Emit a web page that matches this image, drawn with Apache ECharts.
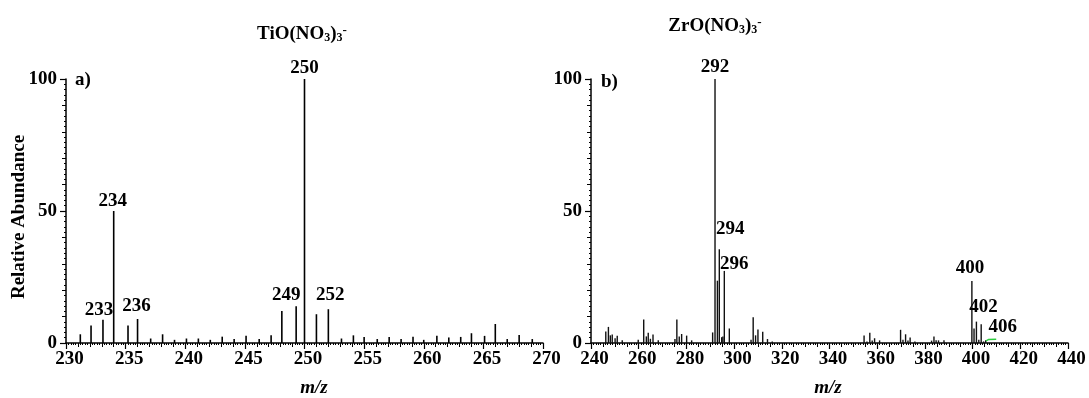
<!DOCTYPE html>
<html>
<head>
<meta charset="utf-8">
<script src="https://cdn.jsdelivr.net/npm/echarts@6/dist/echarts.min.js"></script>
<style>
html,body{margin:0;padding:0;background:#fff;}
#chart{width:1089px;height:398px;}
</style>
</head>
<body>
<div id="chart"></div>
<script>
// ---- Data ----
// Panel a) TiO(NO3)3-  : [m/z, relative abundance]
var tiMz  = [231.2,232.1,233.1,234.0,235.2,236.0,237.1,238.1,239.1,240.1,241.1,242.1,243.1,244.1,245.1,246.2,247.2,248.1,249.3,250.0,251.0,252.0,253.1,254.1,255.0,256.1,257.1,258.1,259.1,260.0,261.1,262.1,263.1,264.0,265.1,266.0,267.0,268.0,269.1];
var tiAbu = [3.3,6.6,8.8,50,6.6,9.1,1.7,3.3,1.2,1.7,1.7,1.2,2.4,1.5,2.7,1.5,2.9,12.1,13.9,100,10.9,12.8,1.7,2.9,2.3,1.5,2.3,1.5,2.4,1.2,2.7,2.1,2.3,3.7,2.7,7.2,1.5,3.0,1.5];
var tiLabelMz   = [233.1,234.0,236.0,249.3,250.0,252.0];
var tiLabelText = ['233','234','236','249','250','252'];

// Panel b) ZrO(NO3)3-
var zrMz  = [246.2,247.3,248.1,248.9,250.1,251.0,253.1,259.8,262.1,263.2,264.0,264.9,266.0,268.2,275.2,276.0,277.0,278.0,280.1,282.2,291.0,292.0,293.0,293.8,294.8,295.3,295.9,298.0,307.1,308.0,309.0,310.0,312.0,314.0,316.0,354.5,355.7,356.9,357.9,358.9,361.0,369.8,370.8,371.9,372.9,373.8,375.8,382.8,383.8,384.7,385.7,388.0,399.7,400.6,401.6,402.6,403.6,404.6,405.5];
var zrAbu = [4.4,6.1,2.9,3.2,1.8,2.7,1.0,1.2,8.9,2.5,3.9,1.6,3.2,1.0,1.5,8.9,2.5,3.4,2.8,1.0,4.0,100,23.6,35.5,2.2,2.5,27.3,5.5,1.2,9.8,2.9,5.1,4.3,1.5,0.6,2.8,0.6,3.9,0.9,1.8,1.0,5.0,1.2,3.3,0.9,2.1,0.6,0.9,2.5,1.0,1.0,1.0,23.5,5.5,8.1,1.2,7.1,0.6,1.0];
var zrLabelMz   = [292.0,293.8,295.9,399.7,401.6,405.5];
var zrLabelText = ['292','294','296','400','402','406'];
var zrGreenMz  = [405.6,406.6,409.9];
var zrGreenAbu = [0.8,1.3,1.4];

// Axis ranges / ticks
var tiRange = [230, 270], tiStep = 5;
var zrRange = [240, 440], zrStep = 20;
var yTicks = [0, 50, 100];

// ---- Styling (kept separate from data) ----
var labelOffsets = {
  '233':[-4,-1], '234':[-1,-1], '236':[-1,-4], '249':[-10,-2], '250':[0,-2], '252':[2,-5],
  '292':[0,-3], '294':[11,-11], '296':[10,2], '400':[-2,-4], '402':[7,-6], '406':[17,-4]
};
var FONT = 'Liberation Serif';
var FS = 19;

function buildBars(mz, abu, lblMz, lblText) {
  return mz.map(function (m, i) {
    var item = {value: [m, abu[i]]};
    var k = lblMz.indexOf(m);
    if (k >= 0) {
      var t = lblText[k];
      item.label = {show: true, position: 'top', distance: 0, formatter: t,
        offset: labelOffsets[t], fontSize: FS, lineHeight: 18,
        fontFamily: FONT, fontWeight: 'bold', color: '#000'};
    }
    return item;
  });
}

var grids = [
  {left: 66, top: 79, width: 477, height: 264},
  {left: 591, top: 79, width: 477, height: 264}
];

function mainX(gi, range, step) {
  return {gridIndex: gi, type: 'value', position: 'bottom', min: range[0], max: range[1], interval: step,
    axisLine: {show: true, onZero: false, lineStyle: {color: '#000', width: 1.5}},
    axisTick: {show: true, length: 6, lineStyle: {color: '#000', width: 1.2}},
    axisLabel: {show: true, margin: 7, fontSize: FS, padding: [0,0,0,7], fontFamily: FONT, fontWeight: 'bold', color: '#000'},
    splitLine: {show: false}};
}
function midX(gi, range, step, minorN) {
  return {gridIndex: gi, type: 'value', position: 'bottom', min: range[0], max: range[1], interval: step,
    axisLine: {show: false, onZero: false},
    axisTick: {show: true, length: 4, lineStyle: {color: '#000', width: 1}},
    minorTick: {show: true, splitNumber: minorN, length: 2, lineStyle: {color: '#000', width: 1}},
    axisLabel: {show: false}, splitLine: {show: false}};
}
function mainY(gi) {
  return {gridIndex: gi, type: 'value', position: 'left', min: yTicks[0], max: yTicks[yTicks.length-1], interval: yTicks[1]-yTicks[0],
    axisLine: {show: true, onZero: false, lineStyle: {color: '#000', width: 1.5}},
    axisTick: {show: true, length: 6, lineStyle: {color: '#000', width: 1.2}},
    axisLabel: {show: true, margin: 9, fontSize: FS, fontFamily: FONT, fontWeight: 'bold', color: '#000'},
    splitLine: {show: false}};
}
function midY(gi) {
  return {gridIndex: gi, type: 'value', position: 'left', min: 0, max: 100, interval: 10,
    axisLine: {show: false, onZero: false},
    axisTick: {show: true, length: 4, lineStyle: {color: '#000', width: 1}},
    minorTick: {show: true, splitNumber: 5, length: 2, lineStyle: {color: '#000', width: 1}},
    axisLabel: {show: false}, splitLine: {show: false}};
}

var richTitle = {
  a: {fontSize: 19, lineHeight: 20, fontFamily: FONT, fontWeight: 'bold', color: '#000', verticalAlign: 'middle'},
  s: {fontSize: 12, lineHeight: 12, fontFamily: FONT, fontWeight: 'bold', color: '#000', verticalAlign: 'bottom'},
  p: {fontSize: 13, lineHeight: 13, fontFamily: FONT, fontWeight: 'bold', color: '#000', verticalAlign: 'top'}
};

var option = {
  backgroundColor: '#fff',
  animation: false,
  title: [
    {text: '{a|TiO(NO}{s|3}{a|)}{s|3}{p|-}', left: 302, top: 24, textAlign: 'center', padding: 0,
     textStyle: {rich: richTitle}},
    {text: '{a|ZrO(NO}{s|3}{a|)}{s|3}{p|-}', left: 715, top: 16, textAlign: 'center', padding: 0,
     textStyle: {rich: richTitle}}
  ],
  grid: grids,
  xAxis: [
    mainX(0, tiRange, tiStep), midX(0, tiRange, 1, 5),
    mainX(1, zrRange, zrStep), midX(1, zrRange, 5, 5)
  ],
  yAxis: [mainY(0), midY(0), mainY(1), midY(1)],
  graphic: [
    {type: 'text', x: 19, y: 217, rotation: Math.PI/2,
     style: {text: 'Relative Abundance', font: 'bold 19px "Liberation Serif"', fill: '#000', align: 'center', verticalAlign: 'middle'}},
    {type: 'text', x: 314, y: 388,
     style: {text: 'm/z', font: 'italic bold 19px "Liberation Serif"', fill: '#000', align: 'center', verticalAlign: 'middle'}},
    {type: 'text', x: 828, y: 388,
     style: {text: 'm/z', font: 'italic bold 19px "Liberation Serif"', fill: '#000', align: 'center', verticalAlign: 'middle'}},
    {type: 'text', x: 75, y: 80,
     style: {text: 'a)', font: 'bold 19px "Liberation Serif"', fill: '#000', align: 'left', verticalAlign: 'middle'}},
    {type: 'text', x: 601, y: 82,
     style: {text: 'b)', font: 'bold 19px "Liberation Serif"', fill: '#000', align: 'left', verticalAlign: 'middle'}}
  ],
  series: [
    {type: 'bar', xAxisIndex: 0, yAxisIndex: 0, barWidth: 1.6, itemStyle: {color: '#000'},
     data: buildBars(tiMz, tiAbu, tiLabelMz, tiLabelText)},
    {type: 'bar', xAxisIndex: 2, yAxisIndex: 2, barWidth: 1.4, itemStyle: {color: '#111'},
     data: buildBars(zrMz, zrAbu, zrLabelMz, zrLabelText)},
    {type: 'line', xAxisIndex: 2, yAxisIndex: 2, symbol: 'none', lineStyle: {color: '#2ecc40', width: 1.5},
     data: zrGreenMz.map(function (m, i) { return [m, zrGreenAbu[i]]; })}
  ]
};

var chart = echarts.init(document.getElementById('chart'), null, {renderer: 'canvas'});
chart.setOption(option);
</script>
</body>
</html>
